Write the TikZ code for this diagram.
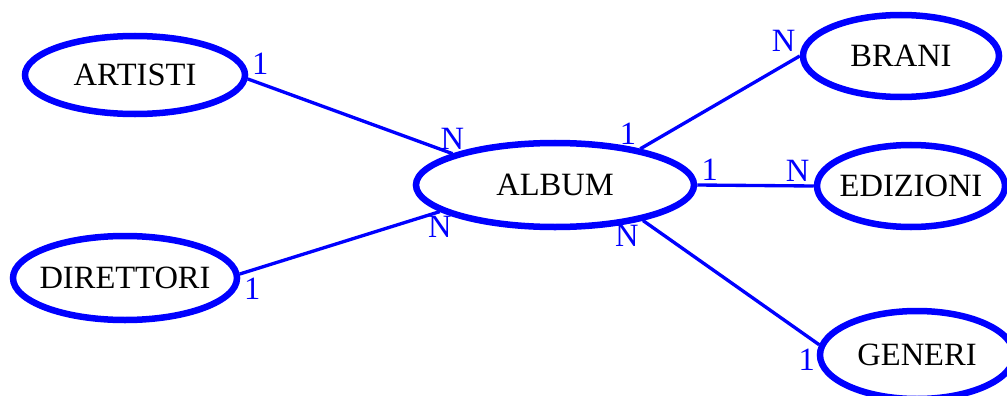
\documentclass[tikz,border=0pt]{standalone}
\usepackage{fontspec}
\setmainfont{Liberation Serif}
\usepackage{tikz}
\usetikzlibrary{shapes.geometric}
\definecolor{erblue}{HTML}{0000FF}
\tikzset{
  entity/.style={ellipse, draw=erblue, line width=3.7pt, fill=white,
    inner xsep=-6pt, inner ysep=0pt, font=\fontsize{18.5}{21}\selectfont},
  rel/.style={draw=erblue, line width=1.9pt},
  card/.style={text=erblue, inner sep=1.5pt, font=\fontsize{18.5}{21}\selectfont}
}

\begin{document}
\begin{tikzpicture}[x=0.2mm, y=-0.2mm]
    \useasboundingbox (0,0) rectangle (1007,396);

    \node[entity, minimum width=55.6mm, minimum height=16.8mm] (album) at (555,185) {ALBUM};
    \node[entity, minimum width=44mm, minimum height=15.6mm] (artisti) at (135,75) {ARTISTI};
    \node[entity, minimum width=44.8mm, minimum height=16.8mm] (direttori) at (125,278) {DIRETTORI};
    \node[entity, minimum width=39.2mm, minimum height=16.4mm] (brani) at (901,56) {BRANI};
    \node[entity, minimum width=37.6mm, minimum height=16.4mm] (edizioni) at (911,186) {EDIZIONI};
    \node[entity, minimum width=38.8mm, minimum height=17.6mm] (generi) at (917,355) {GENERI};

    \draw[rel] (artisti.-2) -- node[card, pos=0, anchor=south west] {1}
        node[card, pos=1, anchor=south] {N} (album.163);
    \draw[rel] (direttori.2) -- node[card, pos=0, anchor=north west] {1}
        node[card, pos=1, anchor=north] {N} (album.193);
    \draw[rel] (album.23) -- node[card, pos=0, anchor=south east] {1}
        node[card, pos=1, anchor=south east] {N} (brani.west);
    \draw[rel] (album.east) -- node[card, pos=0, anchor=south west] {1}
        node[card, pos=1, anchor=south east] {N} (edizioni.west);
    \draw[rel] (album.-22) -- node[card, pos=0, anchor=north east] {N}
        node[card, pos=1, anchor=north east] {1} (generi.174);
\end{tikzpicture}
\end{document}
